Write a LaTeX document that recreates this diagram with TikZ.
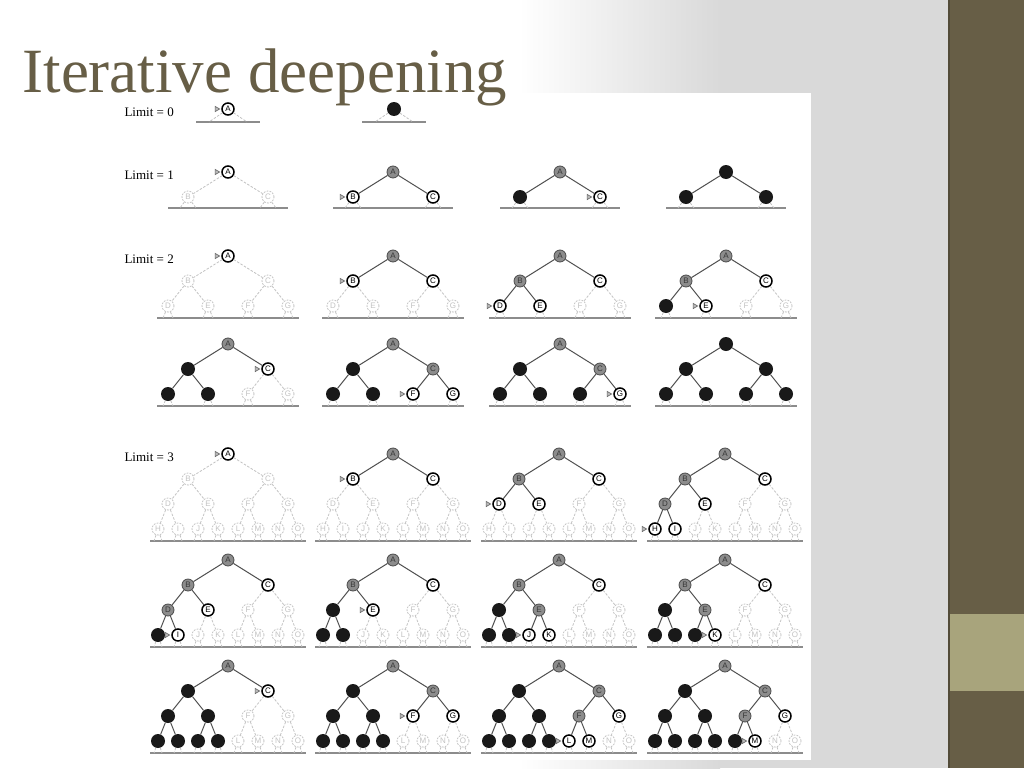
\documentclass[tikz,border=0pt]{standalone}
\usepackage{fontspec}
\setmainfont{Liberation Serif}
\setsansfont{Liberation Sans}
\usetikzlibrary{positioning, shapes.geometric}
\definecolor{slidebrown}{RGB}{103, 94, 70}
\definecolor{slidesage}{RGB}{168, 164, 124}
\definecolor{slidegray}{RGB}{217, 217, 217}
\definecolor{nodegray}{RGB}{140, 140, 140}
\definecolor{nodeline}{RGB}{75, 75, 75}
\definecolor{nodetext}{RGB}{55, 55, 55}
\definecolor{removedblack}{RGB}{25, 25, 25}
\definecolor{unseengray}{RGB}{195, 195, 195}
\definecolor{edgegray}{RGB}{80, 80, 80}
\definecolor{basegray}{RGB}{140, 140, 140}
\definecolor{markgray}{RGB}{100, 100, 100}

\tikzset{
    treenode/.style={circle, inner sep=0pt, minimum size=12pt,
        font=\sffamily\fontsize{8}{8}\selectfont},
    frontier/.style={treenode, draw=black, line width=1.5pt, fill=white},
    expanded/.style={treenode, draw=nodeline, line width=0.8pt, fill=nodegray, text=nodetext},
    removed/.style={treenode, fill=removedblack, minimum size=14pt},
    unseen/.style={treenode, draw=unseengray, dash pattern=on 1.8pt off 1.2pt,
        line width=0.8pt, text=unseengray},
    frontier-edge/.style={draw=edgegray, line width=1pt},
    expanded-edge/.style={frontier-edge},
    removed-edge/.style={frontier-edge},
    unseen-edge/.style={draw=unseengray, dash pattern=on 2.5pt off 1.5pt, line width=0.8pt},
    stub/.style={unseen-edge},
    groundline/.style={draw=basegray, line width=1.5pt},
    curmark/.style={regular polygon, regular polygon sides=3, shape border rotate=-90,
        draw=markgray, fill=markgray!45, line width=0.6pt, inner sep=0pt, minimum size=6pt},
    limitlabel/.style={anchor=west, font=\fontsize{13}{15}\selectfont}
}

% the 15 nodes: name / x / y (from the root) / parent
\newcommand{\treenodes}{A/0/0/A,B/-40/25/A,C/40/25/A,D/-60/50/B,E/-20/50/B,F/20/50/C,G/60/50/C,%
H/-70/75/D,I/-50/75/D,J/-30/75/E,K/-10/75/E,L/10/75/F,M/30/75/F,N/50/75/G,O/70/75/G}
\def\removedname{removed}

% #1 tree name, #2 root, #3 depth limit, #4 node states, #5 current node
\newcommand{\idtree}[5]{%
    \foreach \n in {A,...,O} {\expandafter\xdef\csname idst\n\endcsname{unseen}}%
    \foreach \n/\s in {#4} {\expandafter\xdef\csname idst\n\endcsname{\s}}%
    \pgfmathtruncatemacro{\nmax}{2^(#3+1)-1}%
    \pgfmathtruncatemacro{\nmin}{2^#3}%
    \ifcase#3 \def\stubdx{19}\def\stubdy{13}\def\lineext{32}%
    \or \def\stubdx{8}\def\stubdy{11}\def\lineext{60}%
    \or \def\stubdx{5}\def\stubdy{12}\def\lineext{71}%
    \or \def\stubdx{4}\def\stubdy{12}\def\lineext{78}\fi
    \pgfmathsetmacro{\liney}{25*#3+\stubdy}%
    \begin{scope}[shift={#2}]
        % ground line
        \coordinate (#1-l) at (-\lineext,\liney);
        \coordinate (#1-r) at (\lineext,\liney);
        \draw[groundline] (#1-l) -- (#1-r);
        % nodes
        \foreach \n/\px/\py/\p [count=\k] in \treenodes {
            \ifnum\k>\nmax\else
                \edef\st{\csname idst\n\endcsname}%
                \ifx\st\removedname\def\lbl{}\else\let\lbl\n\fi
                \node[style/.expand once=\st] (#1\n) at (\px,\py) {\lbl};
            \fi
        }
        % edges, and the stubs below the deepest level
        \foreach \n/\px/\py/\p [count=\k] in \treenodes {
            \ifnum\k>\nmax\else
                \edef\est{\csname idst\n\endcsname-edge}%
                \ifnum\k>1 \draw[style/.expand once=\est] (#1\p) -- (#1\n);\fi
                \ifnum\k<\nmin\else
                    \coordinate (#1\n-sl) at ({\px-\stubdx},{\py+\stubdy});
                    \coordinate (#1\n-sr) at ({\px+\stubdx},{\py+\stubdy});
                    \draw[stub] (#1\n) -- (#1\n-sl);
                    \draw[stub] (#1\n) -- (#1\n-sr);
                \fi
            \fi
        }
        \ifx\relax#5\relax\else
            \node[curmark, left=1pt of #1#5] (#1-cur) {};
        \fi
    \end{scope}
}

\begin{document}
\begin{tikzpicture}[x=1pt, y=-1pt]
    % Background - slide 1024 x 768
    \useasboundingbox (0,0) rectangle (1024,768);
    \fill[slidegray] (0,0) rectangle (948,768);
    \fill[white] (0,0) rectangle (520,768);
    \shade[left color=white, right color=slidegray] (519,0) rectangle (720,768);

    % Right band
    \fill[slidebrown] (948,0) rectangle (1024,768);
    \fill[slidesage] (948,614) rectangle (1024,691);
    \fill[slidebrown!80!black] (948,0) rectangle (950,768);

    % Figure panel
    \fill[white] (110,93) rectangle (811,760);

    % Title
    \node[anchor=base west, text=slidebrown, font=\fontsize{63}{70}\selectfont]
        (title) at (19,92) {Iterative deepening};

    % Limit labels
    \node[limitlabel] (lim0) at (121,112) {Limit = 0};
    \node[limitlabel] (lim1) at (121,175) {Limit = 1};
    \node[limitlabel] (lim2) at (121,259) {Limit = 2};
    \node[limitlabel] (lim3) at (121,457) {Limit = 3};

    % Limit = 0
    \idtree{z1}{(228,109)}{0}{A/frontier}{A}
    \idtree{z2}{(394,109)}{0}{A/removed}{}

    % Limit = 1
    \idtree{a1}{(228,172)}{1}{A/frontier}{A}
    \idtree{a2}{(393,172)}{1}{A/expanded,B/frontier,C/frontier}{B}
    \idtree{a3}{(560,172)}{1}{A/expanded,B/removed,C/frontier}{C}
    \idtree{a4}{(726,172)}{1}{A/removed,B/removed,C/removed}{}

    % Limit = 2
    \idtree{b1}{(228,256)}{2}{A/frontier}{A}
    \idtree{b2}{(393,256)}{2}{A/expanded,B/frontier,C/frontier}{B}
    \idtree{b3}{(560,256)}{2}{A/expanded,B/expanded,C/frontier,D/frontier,E/frontier}{D}
    \idtree{b4}{(726,256)}{2}{A/expanded,B/expanded,C/frontier,D/removed,E/frontier}{E}
    \idtree{b5}{(228,344)}{2}{A/expanded,B/removed,C/frontier,D/removed,E/removed}{C}
    \idtree{b6}{(393,344)}{2}{A/expanded,B/removed,C/expanded,D/removed,E/removed,F/frontier,G/frontier}{F}
    \idtree{b7}{(560,344)}{2}{A/expanded,B/removed,C/expanded,D/removed,E/removed,F/removed,G/frontier}{G}
    \idtree{b8}{(726,344)}{2}{A/removed,B/removed,C/removed,D/removed,E/removed,F/removed,G/removed}{}

    % Limit = 3
    \idtree{c1}{(228,454)}{3}{A/frontier}{A}
    \idtree{c2}{(393,454)}{3}{A/expanded,B/frontier,C/frontier}{B}
    \idtree{c3}{(559,454)}{3}{A/expanded,B/expanded,C/frontier,D/frontier,E/frontier}{D}
    \idtree{c4}{(725,454)}{3}{A/expanded,B/expanded,C/frontier,D/expanded,E/frontier,H/frontier,I/frontier}{H}
    \idtree{c5}{(228,560)}{3}{A/expanded,B/expanded,C/frontier,D/expanded,E/frontier,H/removed,I/frontier}{I}
    \idtree{c6}{(393,560)}{3}{A/expanded,B/expanded,C/frontier,D/removed,E/frontier,H/removed,I/removed}{E}
    \idtree{c7}{(559,560)}{3}{A/expanded,B/expanded,C/frontier,D/removed,E/expanded,H/removed,I/removed,J/frontier,K/frontier}{J}
    \idtree{c8}{(725,560)}{3}{A/expanded,B/expanded,C/frontier,D/removed,E/expanded,H/removed,I/removed,J/removed,K/frontier}{K}
    \idtree{c9}{(228,666)}{3}{A/expanded,B/removed,C/frontier,D/removed,E/removed,H/removed,I/removed,J/removed,K/removed}{C}
    \idtree{c10}{(393,666)}{3}{A/expanded,B/removed,C/expanded,D/removed,E/removed,H/removed,I/removed,J/removed,K/removed,F/frontier,G/frontier}{F}
    \idtree{c11}{(559,666)}{3}{A/expanded,B/removed,C/expanded,D/removed,E/removed,H/removed,I/removed,J/removed,K/removed,F/expanded,G/frontier,L/frontier,M/frontier}{L}
    \idtree{c12}{(725,666)}{3}{A/expanded,B/removed,C/expanded,D/removed,E/removed,H/removed,I/removed,J/removed,K/removed,F/expanded,G/frontier,L/removed,M/frontier}{M}

\end{tikzpicture}
\end{document}
